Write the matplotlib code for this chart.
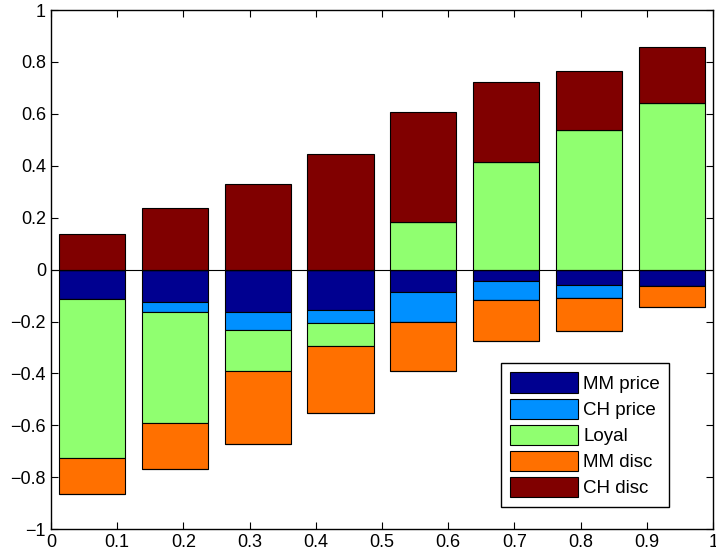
import numpy as np
import matplotlib.pyplot as plt
from matplotlib.ticker import FuncFormatter

# signed contributions per bar (8 bars)
labels = ['MM price', 'CH price', 'Loyal', 'MM disc', 'CH disc']
mm_price = [-0.113, -0.125, -0.164, -0.154, -0.086, -0.045, -0.058, -0.062]
ch_price = [0.0, -0.038, -0.070, -0.051, -0.116, -0.071, -0.051, 0.0]
loyal = [-0.611, -0.428, -0.158, -0.088, 0.182, 0.415, 0.539, 0.642]
mm_disc = [-0.142, -0.177, -0.278, -0.261, -0.190, -0.160, -0.129, -0.083]
ch_disc = [0.139, 0.238, 0.331, 0.447, 0.427, 0.309, 0.225, 0.215]

# MATLAB jet(5)
colors = ['#000090', '#0090ff', '#90ff70', '#ff7000', '#800000']

plt.rcParams['font.family'] = ['Liberation Sans', 'DejaVu Sans']


def tick_fmt(v, p):
    v = round(v, 2)
    if v == 0:
        return '0'
    return ('%g' % v).replace('-', '\u2212')


fig = plt.figure(figsize=(7.16, 5.6), dpi=100)
ax = fig.add_axes([0.071, 0.055, 0.925, 0.927])

n = len(mm_price)
x = (np.arange(n) + 0.5) / n
pos = np.zeros(n)
neg = np.zeros(n)
for lab, vals, c in zip(labels, [mm_price, ch_price, loyal, mm_disc, ch_disc], colors):
    v = np.array(vals)
    vp = np.where(v > 0, v, 0)
    vn = np.where(v < 0, v, 0)
    ax.bar(x, vp, 0.1, bottom=pos, color=c, edgecolor='black', linewidth=0.8)
    ax.bar(x, vn, 0.1, bottom=neg, color=c, edgecolor='black', linewidth=0.8, label=lab)
    pos += vp
    neg += vn

ax.axhline(0, color='black', linewidth=0.8)
ax.set_xlim(0, 1)
ax.set_ylim(-1, 1)
ax.set_xticks(np.arange(0, 1.01, 0.1))
ax.set_yticks(np.arange(-1, 1.01, 0.2))
ax.xaxis.set_major_formatter(FuncFormatter(tick_fmt))
ax.yaxis.set_major_formatter(FuncFormatter(tick_fmt))
ax.tick_params(direction='in', top=True, right=True, labelsize=13, length=5)
for s in ax.spines.values():
    s.set_linewidth(1.0)

ax.legend(loc='lower right', bbox_to_anchor=(0.948, 0.025), fontsize=13.5,
          handlelength=3.6, handleheight=1.3, fancybox=False, edgecolor='black',
          framealpha=1, borderpad=0.5, labelspacing=0.3, handletextpad=0.3)

fig.savefig('out.png', dpi=100)
